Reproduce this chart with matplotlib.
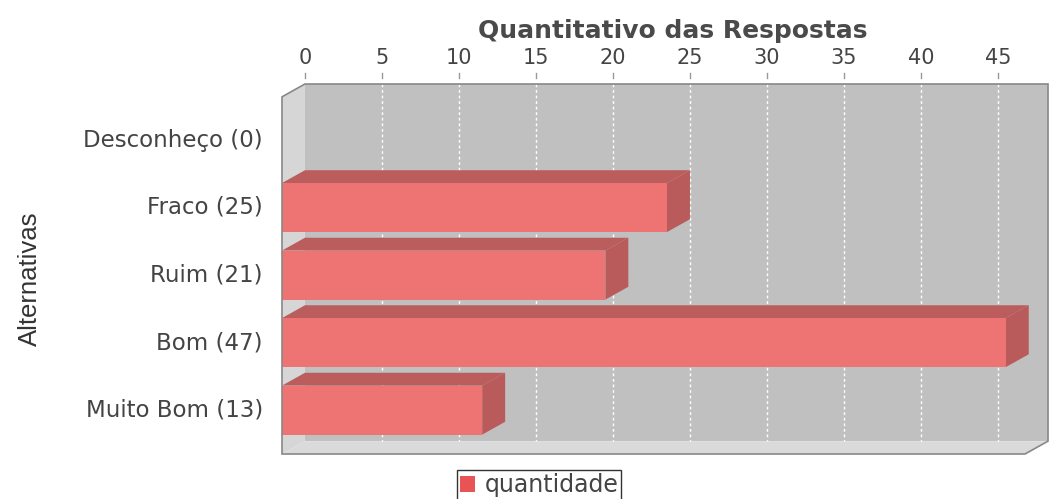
#!/usr/bin/env python
"""
	3D-style horizontal bar chart: Quantitativo das Respostas
"""

import numpy as np
import matplotlib
matplotlib.use('Agg')
import matplotlib.pyplot as plt
from matplotlib.patches import Polygon, Rectangle

# Data
categories = ['Desconheço (0)', 'Fraco (25)', 'Ruim (21)', 'Bom (47)', 'Muito Bom (13)']
values = [0, 25, 21, 47, 13]
xticks = [0, 5, 10, 15, 20, 25, 30, 35, 40, 45]
series_name = 'quantidade'

# Styling
front_col = '#ee7373'
top_col = '#bb5d5d'
side_col = '#b95b5b'
wall_col = '#c0c0c0'
side_wall_col = '#d6d6d6'
txt_col = '#444444'

# 3D offset in data units
dx = 1.49
dy = 0.19
bar_h = 0.726
xmax = 48.25
ytop, ybot = -0.83, 4.65

fig = plt.figure(figsize=(10.53, 4.99), dpi=100)
W, H = 1053.0, 499.0
# axes covers front-left corner (282px) to back-right corner (1048px), top 84px to bottom 454px
ax = fig.add_axes([282/W, 1 - 454/H, (1048-282)/W, (454-84)/H])
ax.set_xlim(-dx, xmax)
ax.set_ylim(ybot, ytop)

# Back wall
ax.add_patch(Rectangle((0, ytop), xmax, ybot - dy - ytop, facecolor=wall_col,
                       edgecolor='none', zorder=1))
# Left wall
ax.add_patch(Polygon([(-dx, ytop + dy), (0, ytop), (0, ybot - dy), (-dx, ybot)],
                     closed=True, facecolor=side_wall_col, edgecolor='none', zorder=1))
# Floor
ax.add_patch(Polygon([(-dx, ybot), (0, ybot - dy), (xmax, ybot - dy), (xmax - dx, ybot)],
                     closed=True, facecolor='#dadada', edgecolor='none', zorder=1))

# Gridlines on back wall
for t in xticks[1:]:
	ax.plot([t, t], [ytop, ybot - dy], color='white', lw=1.0, ls=(0, (2, 2)), zorder=2)

# Bars
for i, v in enumerate(values):
	if v <= 0:
		continue
	top = i - bar_h / 2
	bot = i + bar_h / 2
	ax.add_patch(Rectangle((-dx, top), v, bar_h, facecolor=front_col, edgecolor='none', zorder=4))
	ax.add_patch(Polygon([(-dx, top), (0, top - dy), (v, top - dy), (v - dx, top)],
	                     closed=True, facecolor=top_col, edgecolor='none', zorder=3))
	ax.add_patch(Polygon([(v - dx, top), (v, top - dy), (v, bot - dy), (v - dx, bot)],
	                     closed=True, facecolor=side_col, edgecolor='none', zorder=3))

# Outline of the plot box
ax.add_patch(Polygon([(-dx, ytop + dy), (0, ytop), (xmax, ytop), (xmax, ybot - dy),
                      (xmax - dx, ybot), (-dx, ybot)],
                     closed=True, facecolor='none', edgecolor='#888888', lw=1.2, zorder=6,
                     clip_on=False))

# Small tick marks above the plot, detached from the box
px = (ybot - ytop) / 370.0
for t in xticks:
	ax.plot([t, t], [ytop - 6 * px, ytop - 11 * px], color='#999999', lw=1.0,
	        clip_on=False, zorder=6)

# Axes formatting
for s in ax.spines.values():
	s.set_visible(False)
ax.xaxis.tick_top()
ax.set_xticks(xticks)
ax.set_xticklabels([str(t) for t in xticks], fontsize=15, color=txt_col)
ax.tick_params(axis='x', length=0, pad=11.5)
ax.set_yticks([])

fig.text(673/W, 1 - 31/H, 'Quantitativo das Respostas', ha='center', va='center',
         fontsize=18, fontweight='bold', color='#4a4a4a')

for i, c in enumerate(categories):
	fig.text(263/W, 1 - (140 + 67.5 * i)/H, c, ha='right', va='center', fontsize=16.5,
	         color=txt_col)

fig.text(30/W, 1 - 279/H, 'Alternativas', rotation=90, ha='center', va='center',
         fontsize=18.5, color='#333333',
         family=['Liberation Sans', 'DejaVu Sans'])

# Legend
leg = fig.legend([Rectangle((0, 0), 1, 1, facecolor='#e85454', edgecolor='none')],
                 [series_name], loc='center', bbox_to_anchor=(539/W, 1 - 485/H),
                 fontsize=17, frameon=True, fancybox=False, handlelength=0.65,
                 handleheight=0.65, handletextpad=0.4, borderpad=0.12, borderaxespad=0)
leg.get_frame().set_edgecolor('black')
leg.get_frame().set_linewidth(1.0)
for t in leg.get_texts():
	t.set_color(txt_col)

fig.savefig('out.png', dpi=100)
plt.close('all')
